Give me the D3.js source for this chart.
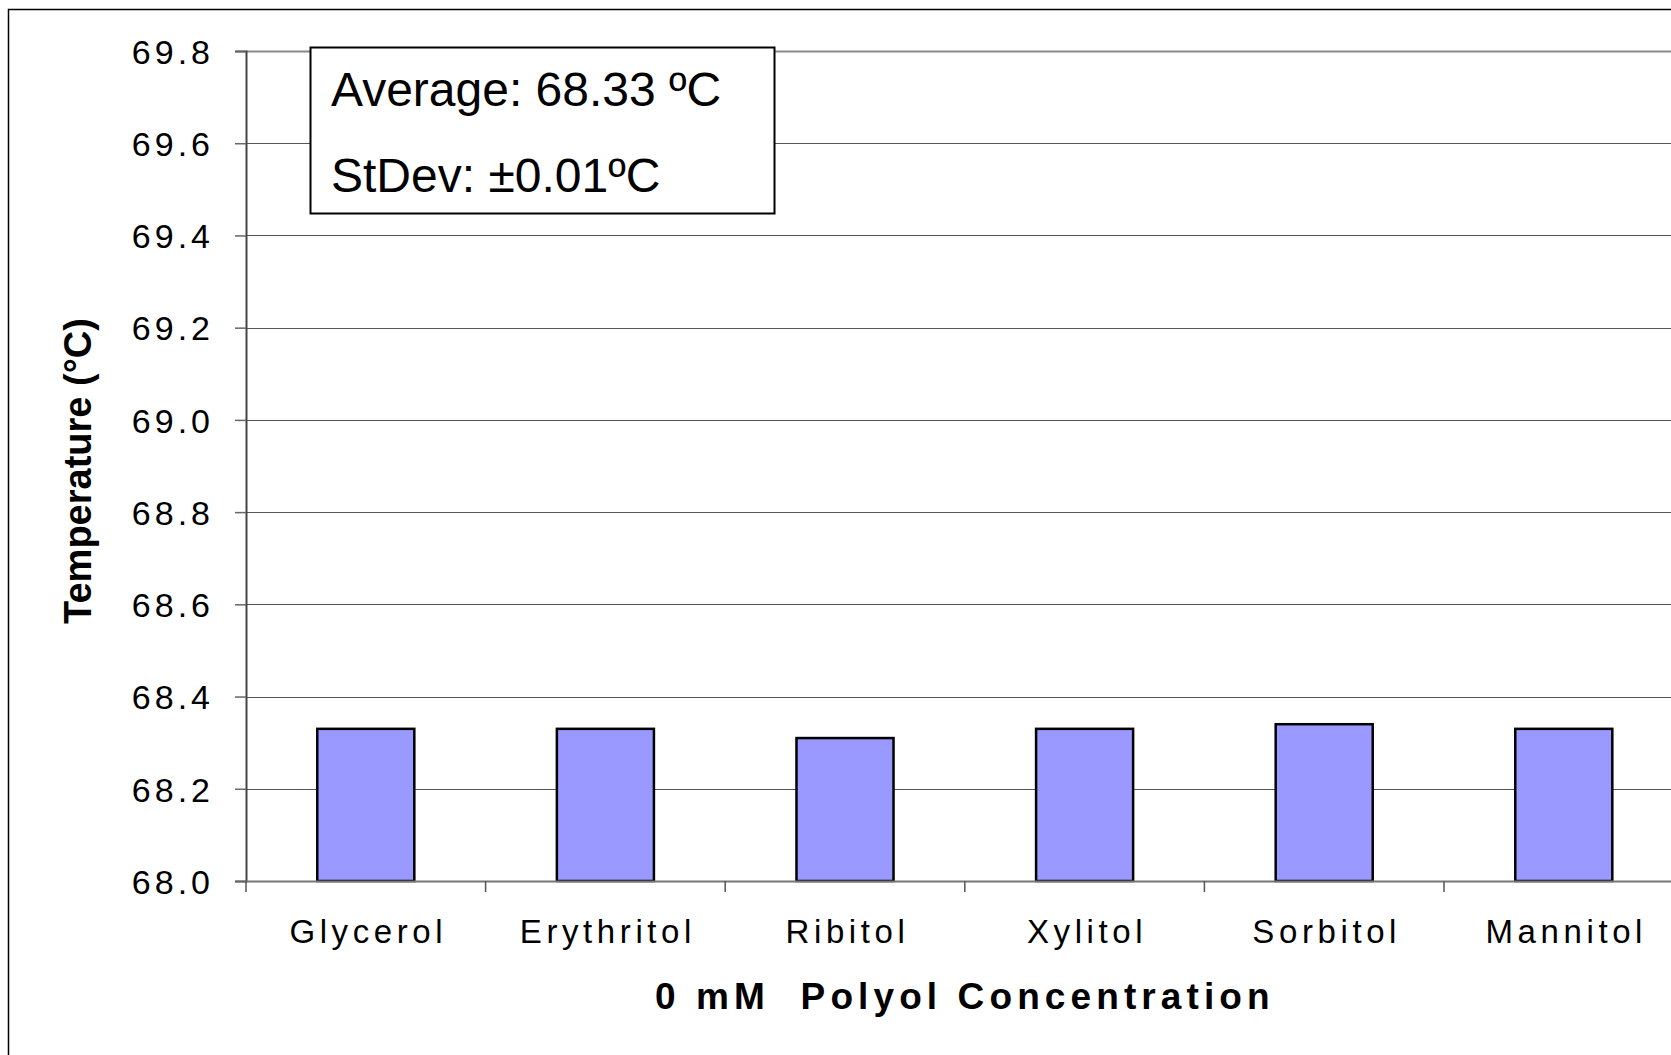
<!DOCTYPE html>
<html><head><meta charset="utf-8">
<script src="https://cdn.jsdelivr.net/npm/d3@7"></script>
<style>body{margin:0;background:#fff}svg{display:block}</style>
</head><body>
<script>
const categories = ["Glycerol","Erythritol","Ribitol","Xylitol","Sorbitol","Mannitol"];
const values = [68.33, 68.33, 68.31, 68.33, 68.34, 68.33];
const yTicks = [68.0, 68.2, 68.4, 68.6, 68.8, 69.0, 69.2, 69.4, 69.6, 69.8];
const annotation = ["Average: 68.33 ºC", "StDev: ±0.01ºC"];
const yTitle = "Temperature (°C)";
const xTitle = "0 mM  Polyol Concentration";

const W = 1671, H = 1055;
const pLeft = 246, pTop = 51, pBottom = 881, pRight = 246 + 6 * 239.6;

const svg = d3.select("body").append("svg").attr("width", W).attr("height", H);

// outer frame (extends beyond the view)
svg.append("rect").attr("x", 8.5).attr("y", 9.5).attr("width", W + 20).attr("height", H + 20)
  .attr("fill", "none").attr("stroke", "#000").attr("stroke-width", 1.5);

const x = d3.scaleBand().domain(categories).range([pLeft, pRight]).paddingInner(0.595).paddingOuter(0.2975);
const y = d3.scaleLinear().domain([68.0, 69.8]).range([pBottom, pTop]);

// gridlines
svg.append("g").selectAll("line").data(yTicks.slice(1)).join("line")
  .attr("x1", pLeft).attr("x2", W + 10)
  .attr("y1", d => Math.round(y(d)) + 0.5).attr("y2", d => Math.round(y(d)) + 0.5)
  .attr("stroke", d => d === 69.8 ? "#8a8a8a" : "#555").attr("stroke-width", d => d === 69.8 ? 2 : 1.1);

// y axis
const yAxis = d3.axisLeft(y).tickValues(yTicks).tickFormat(d3.format(".1f")).tickSize(11).tickPadding(21);
const gy = svg.append("g").attr("transform", `translate(${pLeft},0)`).call(yAxis);
gy.select(".domain").attr("stroke", "#444").attr("stroke-width", 2);
gy.selectAll(".tick line").attr("stroke", "#666").attr("stroke-width", 1.5);
gy.selectAll(".tick text").attr("font-family", "Liberation Sans, Arial, sans-serif")
  .attr("font-size", 34).attr("fill", "#000").attr("letter-spacing", 4).attr("dy", "0.36em");

// bars
svg.append("g").selectAll("rect").data(values).join("rect")
  .attr("x", (d, i) => x(categories[i]))
  .attr("width", x.bandwidth())
  .attr("y", d => y(d))
  .attr("height", d => y(68.0) - y(d))
  .attr("fill", "#9999FF").attr("stroke", "#000").attr("stroke-width", 2.5);

// x axis
const step = x.step();
svg.append("line").attr("x1", pLeft).attr("x2", W + 10).attr("y1", pBottom + 0.5).attr("y2", pBottom + 0.5)
  .attr("stroke", "#777").attr("stroke-width", 2);
svg.append("g").selectAll("line").data(d3.range(categories.length + 1)).join("line")
  .attr("x1", i => pLeft + i * step).attr("x2", i => pLeft + i * step)
  .attr("y1", pBottom).attr("y2", pBottom + 11)
  .attr("stroke", "#555").attr("stroke-width", 1.5);

svg.append("g").selectAll("text").data(categories).join("text")
  .attr("x", d => x(d) + x.bandwidth() / 2 + 2.5)
  .attr("y", 943)
  .attr("text-anchor", "middle")
  .attr("font-family", "Liberation Sans, Arial, sans-serif")
  .attr("font-size", 33).attr("letter-spacing", 4.6)
  .text(d => d);

// axis titles
svg.append("text").attr("x", (pLeft + pRight) / 2).attr("y", 1009).attr("text-anchor", "middle")
  .attr("font-family", "Liberation Sans, Arial, sans-serif").attr("font-weight", "bold")
  .attr("font-size", 37).attr("letter-spacing", 5.1).style("white-space", "pre").text(xTitle);

svg.append("text").attr("transform", `translate(91,471) rotate(-90)`).attr("text-anchor", "middle")
  .attr("font-family", "Liberation Sans, Arial, sans-serif").attr("font-weight", "bold")
  .attr("font-size", 38).text(yTitle);

// annotation box
svg.append("rect").attr("x", 310.5).attr("y", 47.5).attr("width", 464).attr("height", 166)
  .attr("fill", "#fff").attr("stroke", "#000").attr("stroke-width", 2);
svg.append("g").selectAll("text").data(annotation).join("text")
  .attr("x", 331).attr("y", (d, i) => 106 + i * 86)
  .attr("font-family", "Liberation Sans, Arial, sans-serif").attr("font-size", 48)
  .text(d => d);
</script>
</body></html>
